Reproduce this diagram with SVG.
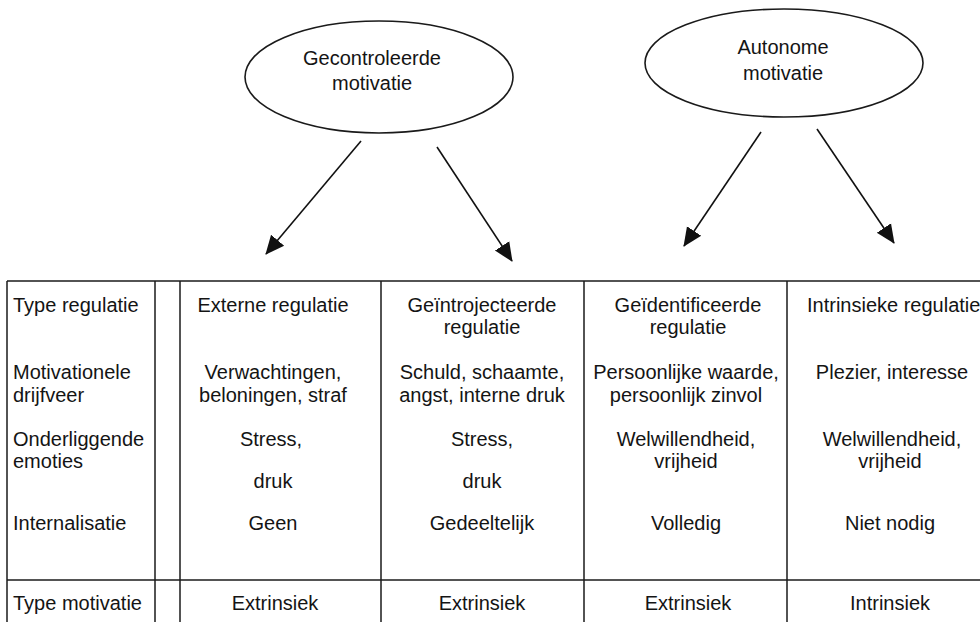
<svg xmlns="http://www.w3.org/2000/svg" width="980" height="622" viewBox="0 0 980 622">
<defs>
<style>
text{font-family:"Liberation Sans",Arial,sans-serif;font-size:20px;fill:#141414}
.c{text-anchor:middle}
.ln{stroke:#1a1a1a;stroke-width:1.5;fill:none}
.el{stroke:#1a1a1a;stroke-width:1.6;fill:#fff}
.ar{stroke:#111;stroke-width:1.6;fill:none;marker-end:url(#ah)}
</style>
<marker id="ah" viewBox="0 0 10 10" refX="9.5" refY="5" markerWidth="19" markerHeight="19" markerUnits="userSpaceOnUse" orient="auto">
<path d="M0,0.5 L10,5 L0,9.5 Z" fill="#111"/>
</marker>
</defs>
<rect width="980" height="622" fill="#fff"/>

<g id="node-gecontroleerde">
<ellipse class="el" cx="379" cy="77" rx="134" ry="56"/>
<text class="c" x="372" y="65">Gecontroleerde</text>
<text class="c" x="372" y="90">motivatie</text>
</g>
<g id="node-autonome">
<ellipse class="el" cx="784" cy="63" rx="139" ry="54"/>
<text class="c" x="783" y="54">Autonome</text>
<text class="c" x="783" y="80">motivatie</text>
</g>

<g id="connectors">
<line class="ar" x1="361" y1="141" x2="266" y2="254"/>
<line class="ar" x1="437" y1="147" x2="512" y2="261"/>
<line class="ar" x1="761" y1="132" x2="684" y2="246"/>
<line class="ar" x1="817" y1="129" x2="894" y2="243"/>
</g>

<g id="table">
<g id="table-lines">
<line class="ln" x1="7" y1="281" x2="980" y2="281"/>
<line class="ln" x1="7" y1="580" x2="980" y2="580"/>
<line class="ln" x1="7" y1="281" x2="7" y2="622"/>
<line class="ln" x1="155" y1="281" x2="155" y2="622"/>
<line class="ln" x1="180" y1="281" x2="180" y2="622"/>
<line class="ln" x1="381" y1="281" x2="381" y2="622"/>
<line class="ln" x1="584" y1="281" x2="584" y2="622"/>
<line class="ln" x1="787" y1="281" x2="787" y2="622"/>
</g>
<g id="col-labels">
<text x="13" y="312">Type regulatie</text>
<text x="13" y="379">Motivationele</text>
<text x="13" y="402">drijfveer</text>
<text x="13" y="446">Onderliggende</text>
<text x="13" y="468">emoties</text>
<text x="13" y="530">Internalisatie</text>
<text x="13" y="610">Type motivatie</text>
</g>
<g id="col-extern">
<text class="c" x="273" y="312">Externe regulatie</text>
<text class="c" x="273" y="379">Verwachtingen,</text>
<text class="c" x="273" y="402">beloningen, straf</text>
<text class="c" x="271" y="446">Stress,</text>
<text class="c" x="273" y="488">druk</text>
<text class="c" x="273" y="530">Geen</text>
<text class="c" x="275" y="610">Extrinsiek</text>
</g>
<g id="col-geintrojecteerd">
<text class="c" x="482" y="312">Geïntrojecteerde</text>
<text class="c" x="482" y="334">regulatie</text>
<text class="c" x="482" y="379">Schuld, schaamte,</text>
<text class="c" x="482" y="402">angst, interne druk</text>
<text class="c" x="482" y="446">Stress,</text>
<text class="c" x="482" y="488">druk</text>
<text class="c" x="482" y="530">Gedeeltelijk</text>
<text class="c" x="482" y="610">Extrinsiek</text>
</g>
<g id="col-geidentificeerd">
<text class="c" x="688" y="312">Geïdentificeerde</text>
<text class="c" x="688" y="334">regulatie</text>
<text class="c" x="686" y="379">Persoonlijke waarde,</text>
<text class="c" x="686" y="402">persoonlijk zinvol</text>
<text class="c" x="686" y="446">Welwillendheid,</text>
<text class="c" x="686" y="468">vrijheid</text>
<text class="c" x="686" y="530">Volledig</text>
<text class="c" x="688" y="610">Extrinsiek</text>
</g>
<g id="col-intrinsiek">
<text x="807" y="312">Intrinsieke regulatie</text>
<text class="c" x="892" y="379">Plezier, interesse</text>
<text class="c" x="892" y="446">Welwillendheid,</text>
<text class="c" x="890" y="468">vrijheid</text>
<text class="c" x="890" y="530">Niet nodig</text>
<text class="c" x="890" y="610">Intrinsiek</text>
</g>
</g>
</svg>
